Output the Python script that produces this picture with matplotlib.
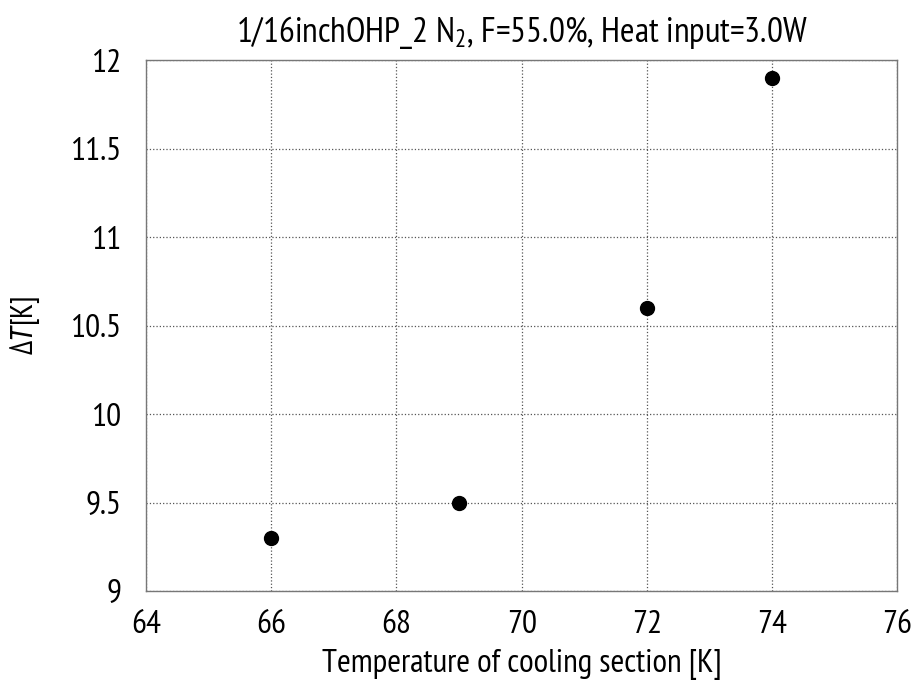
import matplotlib
matplotlib.use("Agg")
import matplotlib.pyplot as plt

temps = [66, 69, 72, 74]
delta_t = [9.3, 9.5, 10.6, 11.9]
xticks = [64, 66, 68, 70, 72, 74, 76]
yticks = [9, 9.5, 10, 10.5, 11, 11.5, 12]
ytick_labels = ["9", "9.5", "10", "10.5", "11", "11.5", "12"]

FONT = "PT Sans Narrow"
plt.rcParams['font.family'] = [FONT, 'DejaVu Sans']
plt.rcParams['mathtext.fontset'] = 'custom'
plt.rcParams['mathtext.rm'] = FONT
plt.rcParams['mathtext.it'] = 'Roboto Condensed:italic'

fig = plt.figure(figsize=(9.15, 6.84), dpi=100)
ax = fig.add_axes([0.1596, 0.136, 0.821, 0.776])
ax.plot(temps, delta_t, 'o', color='black', markersize=10, zorder=3)
ax.set_xlim(64, 76)
ax.set_ylim(9, 12)
ax.set_xticks(xticks)
ax.set_xticklabels([str(v) for v in xticks], fontsize=24)
ax.set_yticks(yticks)
ax.set_yticklabels(ytick_labels, fontsize=24)
ax.tick_params(axis='x', length=0, pad=14)
ax.tick_params(axis='y', length=0, pad=18)
ax.grid(True, linestyle=':', color='#555555', linewidth=0.9)
for s in ax.spines.values():
    s.set_color('#777777')
    s.set_linewidth(1.0)
ax.set_xlabel("Temperature of cooling section [K]", fontsize=24, labelpad=6)
ax.set_ylabel(r"$\mathit{\Delta T}$[K]", fontsize=22, labelpad=20)
ax.set_title(r"1/16inchOHP_2 N$_\mathregular{2}$, F=55.0%, Heat input=3.0W", fontsize=25.5, pad=13)
fig.savefig("out.png", dpi=100)
